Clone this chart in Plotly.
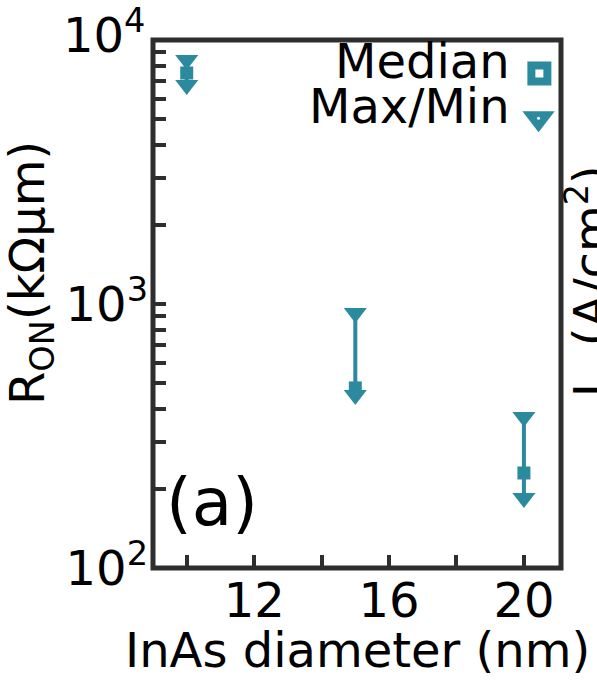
import plotly.graph_objects as go

# ---- data ----
diam = [10, 15, 20]                 # InAs diameter (nm)
r_max = [8400, 925, 373]            # R_ON max (kOhm um)
r_med = [7500, 481, 229]            # R_ON median
r_min = [6760, 452, 184]            # R_ON min

x_tickvals = [10, 12, 14, 16, 18, 20]
x_ticktext = ["", "12", "", "16", "", "20"]
y_major = [100, 1000, 10000]
y_major_text = ["10<sup>2</sup>", "10<sup>3</sup>", "10<sup>4</sup>"]
legend_labels = ["Median", "Max/Min"]

TEAL = "#2b8a9e"
DARK = "#2e2e2e"
FONT = "DejaVu Sans"

# minor log ticks (unlabelled); the top label is drawn as an annotation
# because the reference shows it raised above its tick
y_tickvals, y_ticktext = [], []
for dec in (100, 1000):
    y_tickvals.append(dec)
    y_ticktext.append(y_major_text[y_major.index(dec)])
    for m in range(2, 10):
        y_tickvals.append(m * dec)
        y_ticktext.append("")
y_tickvals.append(10000)
y_ticktext.append("")

# error-bar segments from max to min
seg_x, seg_y = [], []
for d, hi, lo in zip(diam, r_max, r_min):
    seg_x += [d, d, None]
    seg_y += [hi, lo, None]

fig = go.Figure()
fig.add_trace(go.Scatter(x=seg_x, y=seg_y, mode="lines",
                         line=dict(color=TEAL, width=4), showlegend=False,
                         hoverinfo="skip"))
fig.add_trace(go.Scatter(x=diam, y=r_med, mode="markers", name=legend_labels[0],
                         marker=dict(symbol="square", size=13, color=TEAL),
                         showlegend=False))
fig.add_trace(go.Scatter(x=diam + diam, y=r_max + r_min, mode="markers",
                         name=legend_labels[1],
                         marker=dict(symbol="triangle-down", size=20, color=TEAL),
                         showlegend=False))

# custom legend (marker to the right of the text) on an overlay axis
lx = [0.947, 0.945]
ly = [0.9366, 0.852]
fig.add_trace(go.Scatter(x=[lx[0]], y=[ly[0]], xaxis="x2", yaxis="y2", mode="markers",
                         marker=dict(symbol="square", size=24, color=TEAL),
                         showlegend=False, hoverinfo="skip"))
fig.add_trace(go.Scatter(x=[lx[0]], y=[ly[0]], xaxis="x2", yaxis="y2", mode="markers",
                         marker=dict(symbol="square", size=8, color="white"),
                         showlegend=False, hoverinfo="skip"))
fig.add_trace(go.Scatter(x=[lx[1]], y=[ly[1]], xaxis="x2", yaxis="y2", mode="markers",
                         marker=dict(symbol="triangle-down", size=28, color=TEAL),
                         showlegend=False, hoverinfo="skip"))
fig.add_trace(go.Scatter(x=[lx[1]], y=[ly[1]], xaxis="x2", yaxis="y2", mode="markers",
                         marker=dict(symbol="circle", size=3, color="white"),
                         showlegend=False, hoverinfo="skip"))

annotations = [
    dict(text=legend_labels[0], x=0.880, y=0.9605, xanchor="right", yanchor="middle"),
    dict(text=legend_labels[1], x=0.880, y=0.875, xanchor="right", yanchor="middle"),
    dict(text="R<sub>ON</sub>(kΩμm)", x=-0.3015, y=0.5587, textangle=-90,
         xanchor="center", yanchor="middle"),
    dict(text="InAs diameter (nm)", x=0.5, y=-0.155, xanchor="center", yanchor="middle"),
    dict(text="(a)", x=0.1446, y=0.125, xanchor="center", yanchor="middle",
         font=dict(size=66, family=FONT, color="black")),
    dict(text="J<sub><span style='font-size:24px'>ON</span></sub>(A/cm<sup>2</sup>)",
         x=1.071, y=0.5413, textangle=-90, xanchor="center", yanchor="middle"),
    dict(text=y_major_text[2], x=0, y=1, xshift=-6, yshift=8,
         xanchor="right", yanchor="middle"),
]
for a in annotations:
    a.update(xref="paper", yref="paper", showarrow=False)
    a.setdefault("font", dict(size=48, family=FONT, color="black"))

fig.update_layout(
    width=597, height=681,
    margin=dict(l=153, r=36, t=40, b=113, pad=0),
    paper_bgcolor="white", plot_bgcolor="white",
    font=dict(family=FONT, size=48, color="black"),
    showlegend=False,
    xaxis=dict(range=[9, 21.1], tickvals=x_tickvals, ticktext=x_ticktext,
               ticks="inside", ticklen=13, tickwidth=4, tickcolor=DARK,
               showgrid=False, zeroline=False, showline=False,
               tickfont=dict(size=48, family=FONT, color="black")),
    yaxis=dict(type="log", range=[2, 4], tickvals=y_tickvals, ticktext=y_ticktext,
               ticks="inside", ticklen=13, tickwidth=4, tickcolor=DARK,
               showgrid=False, zeroline=False, showline=False, ticklabelstandoff=4,
               tickfont=dict(size=48, family=FONT, color="black")),
    xaxis2=dict(overlaying="x", range=[0, 1], visible=False, fixedrange=True),
    yaxis2=dict(overlaying="y", range=[0, 1], visible=False, fixedrange=True),
    annotations=annotations,
    shapes=[dict(type="rect", xref="paper", yref="paper", x0=0, y0=0, x1=1, y1=1,
                 line=dict(color=DARK, width=5), layer="above")],
)

fig.write_html("out.html")
